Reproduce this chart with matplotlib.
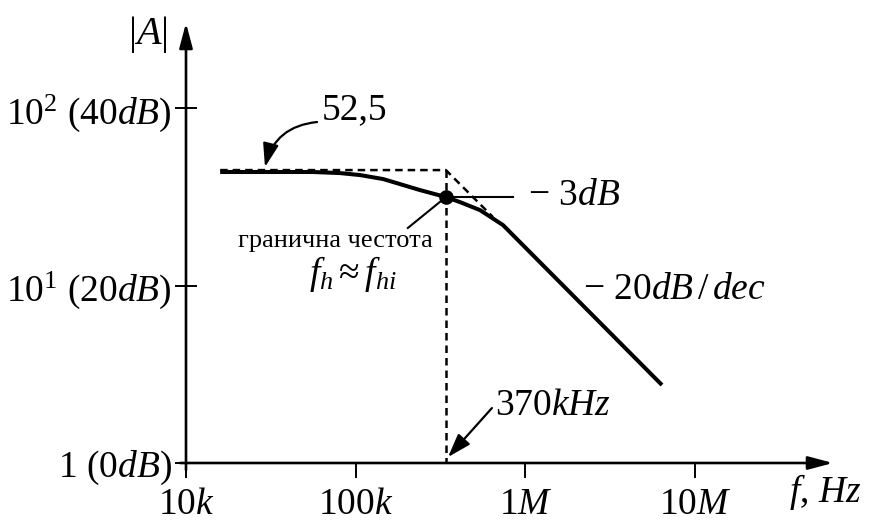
import matplotlib
matplotlib.use("Agg")
import matplotlib.pyplot as plt

plt.rcParams["font.family"] = ["Liberation Serif", "DejaVu Serif"]
plt.rcParams["mathtext.fontset"] = "custom"
plt.rcParams["mathtext.rm"] = "Liberation Serif"
plt.rcParams["mathtext.it"] = "Liberation Serif:italic"
plt.rcParams["mathtext.bf"] = "Liberation Serif:bold"

FS = 27  # main label size

# axis ticks
F_TICKS = [1e4, 1e5, 1e6, 1e7]
F_LABELS = ["10$k$", "100$k$", "1$M$", "10$M$"]
A_TICKS = [1, 10, 100]
A_LABELS = ["1 (0$dB$)", "$10^{1}$ (20$dB$)", "$10^{2}$ (40$dB$)"]

# measured response (Hz, |A|)
CURVE_F = [15.9e3, 56e3, 80.8e3, 106e3, 145e3, 182e3, 239e3, 340e3, 412e3, 540e3, 738e3, 6.38e6]
CURVE_A = [43.6, 43.6, 43.0, 41.9, 39.8, 37.3, 34.5, 31.5, 29.5, 26.6, 21.9, 2.75]

# asymptotic approximation
ASYM_F = [15.9e3, 340e3, 644e3]
ASYM_A = [44.7, 44.7, 24.3]

F_H = 340e3      # corner frequency as drawn
A_3DB = 31.5
A_FLAT = 44.7

fig = plt.figure(figsize=(8.78, 5.22), dpi=100)
ax = fig.add_axes([186 / 878, 59 / 522, 647 / 878, 440 / 522])
ax.set_xscale("log")
ax.set_yscale("log")
ax.set_xlim(1e4, 10 ** 7.8127)
ax.set_ylim(1, 10 ** 2.479)
for s in ax.spines.values():
    s.set_visible(False)

# axes with arrowheads
arr = dict(arrowstyle="-|>,head_length=0.75,head_width=0.2", lw=1.9, color="k",
           mutation_scale=20, shrinkA=0, shrinkB=0)
ax.annotate("", xy=(1, 0), xytext=(-0.009, 0), xycoords="axes fraction", arrowprops=arr)
ax.annotate("", xy=(0, 1), xytext=(0, -0.016), xycoords="axes fraction", arrowprops=arr)

ax.set_xticks(F_TICKS, F_LABELS, fontsize=FS)
ax.set_yticks(A_TICKS, A_LABELS, fontsize=FS)
ax.minorticks_off()
ax.tick_params(axis="x", direction="out", length=11, width=1.4, pad=7)
ax.tick_params(axis="y", direction="inout", length=16, width=1.4, pad=2)

# response and asymptotes
dash = (0, (3.0, 2.0))
ax.plot(CURVE_F, CURVE_A, color="k", lw=2.9, solid_capstyle="butt", solid_joinstyle="round")
ax.plot(ASYM_F, ASYM_A, color="k", lw=1.8, ls=dash)
ax.plot([F_H, F_H], [A_FLAT, 1], color="k", lw=1.8, ls=dash)
ax.plot([F_H], [A_3DB], "o", color="k", ms=9.5)

# -3dB marker and corner-frequency leader
ax.plot([F_H, 845e3], [A_3DB, A_3DB], color="k", lw=1.5)
ax.plot([F_H, 203e3], [A_3DB, 21.1], color="k", lw=1.5)

ax.text(1.035e6, 31.9, "− 3$dB$", fontsize=FS, ha="left", va="center")
ax.text(75.5e3, 17.8, "гранична честота", fontsize=19, ha="center", va="center")
ax.text(96.3e3, 11.6, r"$f_h \approx f_{hi}$", fontsize=FS, ha="center", va="center")
ax.text(2.18e6, 9.43, "− 20$dB\\,/\\,dec$", fontsize=FS, ha="left", va="center")

small_arr = dict(arrowstyle="-|>,head_length=0.9,head_width=0.3", lw=1.6, color="k",
                 mutation_scale=16, shrinkA=0, shrinkB=0)
ax.annotate("", xy=(29.2e3, 46.5), xytext=(59.2e3, 83.4),
            arrowprops=dict(small_arr, connectionstyle="arc3,rad=0.35"))
ax.text(63e3, 98, "52,5", fontsize=FS, ha="left", va="center")

ax.annotate("", xy=(350e3, 1.08), xytext=(635e3, 2.04), arrowprops=small_arr)
ax.text(660e3, 2.10, "370$kHz$", fontsize=FS, ha="left", va="center")

ax.text(5.97e3, 258, "$|A|$", fontsize=29, ha="center", va="center")
ax.text(36e6, 0.687, "$f$, $Hz$", fontsize=FS, ha="left", va="center")

fig.savefig("out.png", dpi=100)
